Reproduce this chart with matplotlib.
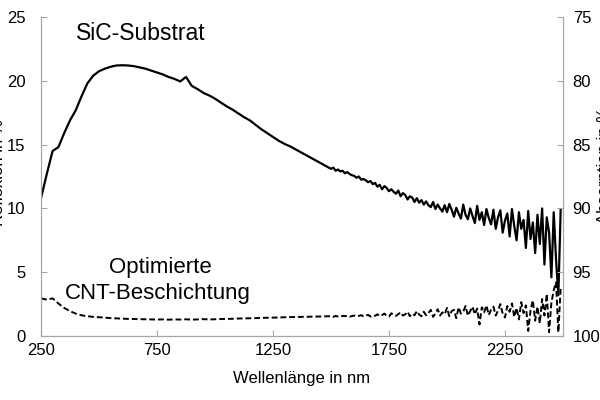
import numpy as np
import matplotlib
matplotlib.use('Agg')
import matplotlib.pyplot as plt

plt.rcParams['font.family'] = ['Liberation Sans', 'DejaVu Sans']

# Wellenlaengen: glatter Teil (25 nm) und verrauschter Teil (10 nm)
wl_glatt = np.arange(250, 1500, 25)
wl_rausch = np.arange(1500, 2500, 10)

# SiC-Substrat, Reflexion in %
sic_glatt = [10.8, 12.7, 14.5, 14.8, 15.9, 16.9, 17.7, 18.8, 19.8, 20.4,
             20.75, 20.95, 21.1, 21.2, 21.22, 21.2, 21.15, 21.05, 20.95, 20.8,
             20.65, 20.5, 20.3, 20.15, 19.95, 20.3, 19.6, 19.35, 19.05, 18.85,
             18.6, 18.3, 18.0, 17.75, 17.45, 17.15, 16.9, 16.55, 16.2, 15.9,
             15.6, 15.3, 15.05, 14.85, 14.6, 14.35, 14.1, 13.85, 13.6, 13.35]
sic_rausch = [13.1, 13.2, 12.95, 13.05, 12.9, 12.95, 12.75, 12.85, 12.7, 12.6,
              12.55, 12.4, 12.5, 12.25, 12.3, 12.2, 12.05, 12.15, 11.9, 12.0,
              11.7, 11.85, 11.5, 11.75, 11.6, 11.35, 11.5, 11.3, 11.15, 11.4,
              10.95, 11.2, 11.05, 10.7, 10.95, 10.85, 10.5, 10.8, 10.45, 10.65,
              10.3, 10.55, 10.25, 10.1, 10.5, 9.95, 10.3, 10.0, 9.75, 10.25,
              9.7, 10.35, 9.9, 9.35, 10.05, 9.6, 9.2, 10.3, 9.5, 9.15,
              10.0, 9.4, 8.85, 10.2, 9.1, 9.7, 8.7, 9.95, 9.25, 8.75,
              9.9, 8.4, 9.3, 9.85, 8.1, 9.05, 9.6, 7.8, 9.95, 8.6,
              7.5, 9.7, 8.4, 9.1, 6.9, 9.8, 7.6, 8.9, 6.5, 9.5,
              7.2, 10.0, 5.6, 9.3, 8.1, 4.6, 9.7, 6.0, 3.2, 9.9]

# Optimierte CNT-Beschichtung, Reflexion in %
cnt_glatt = [2.95, 2.85, 2.95, 2.55, 2.2, 1.95, 1.75, 1.62, 1.55, 1.5,
             1.47, 1.44, 1.4, 1.38, 1.36, 1.34, 1.33, 1.32, 1.31, 1.3,
             1.29, 1.3, 1.28, 1.3, 1.29, 1.31, 1.28, 1.3, 1.32, 1.3,
             1.31, 1.33, 1.34, 1.35, 1.37, 1.38, 1.39, 1.4, 1.42, 1.43,
             1.44, 1.45, 1.47, 1.48, 1.49, 1.5, 1.51, 1.52, 1.53, 1.54]
cnt_rausch = [1.55, 1.5, 1.57, 1.53, 1.5, 1.58, 1.55, 1.6, 1.52, 1.56,
              1.6, 1.54, 1.58, 1.63, 1.55, 1.6, 1.66, 1.52, 1.62, 1.58,
              1.7, 1.56, 1.64, 1.75, 1.6, 1.52, 1.78, 1.66, 1.58, 1.72,
              1.85, 1.6, 1.7, 1.9, 1.55, 1.75, 1.62, 1.95, 1.68, 1.55,
              1.9, 1.62, 1.8, 2.05, 1.5, 1.75, 2.1, 1.6, 1.85, 1.7,
              2.2, 1.55, 1.95, 2.05, 1.4, 2.25, 1.75, 1.9, 2.35, 1.6,
              1.95, 2.3, 1.7, 2.15, 0.9, 2.25, 1.85, 2.4, 1.65, 2.05,
              2.3, 1.6, 2.0, 2.5, 1.75, 1.45, 2.35, 1.9, 2.55, 1.5,
              2.2, 1.3, 2.65, 1.8, 2.4, 0.4, 2.0, 2.8, 1.2, 2.3,
              1.0, 2.9, 1.6, 3.3, 0.3, 2.6, 3.6, 4.2, 0.3, 3.8]

x_ticks = [250, 750, 1250, 1750, 2250]
y_ticks = [0, 5, 10, 15, 20, 25]
y2_ticks = [75, 80, 85, 90, 95, 100]

wl = np.concatenate([wl_glatt, wl_rausch])
sic = np.concatenate([sic_glatt, sic_rausch])
cnt = np.concatenate([cnt_glatt, cnt_rausch])

grau = '#A6A6A6'

fig = plt.figure(figsize=(6, 4), dpi=100)
ax = fig.add_axes([41/600, 64/400, 522/600, 319/400])

ax.plot(wl, sic, color='black', lw=1.6)
ax.plot(wl, cnt, color='black', lw=1.4, dashes=(3, 1.5))

ax.set_xlim(250, 2500)
ax.set_ylim(0, 25)
ax.set_xticks(x_ticks)
ax.set_yticks(y_ticks)
ax.tick_params(axis='x', direction='in', length=4, color=grau, labelsize=12, pad=5)
ax.tick_params(axis='y', direction='in', length=4, color=grau, labelsize=12, pad=11)
ax.spines['top'].set_visible(False)
for s in ['left', 'bottom', 'right']:
    ax.spines[s].set_color(grau)

ax2 = ax.twinx()
ax2.set_ylim(100, 75)
ax2.set_yticks(y2_ticks)
ax2.tick_params(axis='y', direction='in', length=4, color=grau, labelsize=12, pad=7)
ax2.spines['top'].set_visible(False)
for s in ['left', 'bottom', 'right']:
    ax2.spines[s].set_color(grau)

# Achsentitel liegen wie im Original teilweise ausserhalb des Bildes
fig.text(6/600, 1 - 173/400, 'Reflexion in %', rotation=90, ha='right', va='center', fontsize=12)
fig.text(597/600, 1 - 165/400, 'Absorption in %', rotation=90, ha='left', va='center', fontsize=12)
fig.text(302/600, 1 - 378/400, 'Wellenlänge in nm', ha='center', va='center', fontsize=12)

fig.text(141/600, 1 - 34/400, 'SiC-Substrat', ha='center', va='center', fontsize=16.5)
fig.text(160/600, 1 - 268/400, 'Optimierte', ha='center', va='center', fontsize=16)
fig.text(158/600, 1 - 293/400, 'CNT-Beschichtung', ha='center', va='center', fontsize=16)

fig.savefig('out.png', dpi=100)
